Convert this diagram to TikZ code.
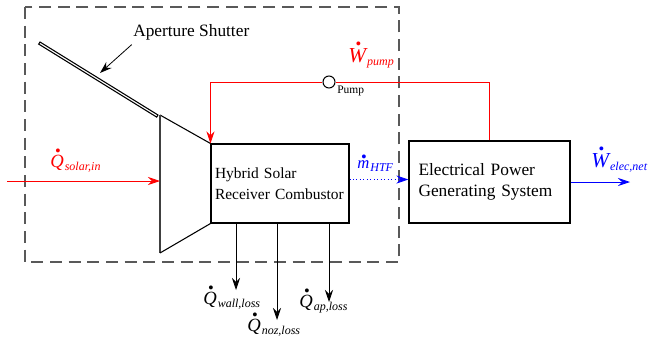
\documentclass[tikz,border=0pt]{standalone}
\usepackage{fontspec}
\setmainfont{Liberation Serif}
\usetikzlibrary{arrows.meta,positioning}

% dotted rate symbol: #1 letter, #2 subscript, #3 letter size, #4 dot height
\newcommand{\ratesym}[4]{%
  {\fontsize{#3}{#3}\selectfont\itshape
   \ooalign{#1\cr\hidewidth\kern0.2em\raisebox{#4}{\fontsize{18}{18}\selectfont\bfseries.}\hidewidth\cr}}%
  \kern0.8pt\raisebox{-2.5pt}{\fontsize{9}{11}\selectfont\itshape #2}}

\begin{document}
\begin{tikzpicture}[x=0.75pt,y=-0.75pt,
  flow/.style={-{Stealth[length=9pt,width=6pt,inset=3pt]}, line width=0.6pt},
  block/.style={draw, thick, rectangle, align=left},
  lbl/.style={inner sep=0pt, anchor=base west}]

% Define colors
\definecolor{heat}{rgb}{1, 0, 0}
\definecolor{power}{rgb}{0, 0, 1}
\definecolor{frame}{rgb}{0.35, 0.35, 0.35}

\useasboundingbox (0,0) rectangle (649,350);

% System boundary
\draw[frame, line width=0.8pt, dash pattern=on 9pt off 5pt] (25,7) rectangle (399,262);

% Draw the blocks
\node[block, minimum width=103.5pt, minimum height=59.25pt, text width=97.5pt, inner xsep=3pt,
  font=\fontsize{11.6}{16}\selectfont] (recv) at (280,183.5) {Hybrid Solar\\Receiver Combustor};
\node[block, minimum width=120.75pt, minimum height=61.5pt, text width=106.5pt, inner xsep=7pt,
  font=\fontsize{13}{15.5}\selectfont] (epgs) at (489.5,182) {Electrical Power\\Generating System};
\node[draw, thick, circle, minimum size=9pt, inner sep=0pt] (pump) at (329,82) {};
\node[lbl, font=\fontsize{8.6}{10}\selectfont] (pumplbl) at (337,93) {Pump};

% Aperture and shutter
\coordinate (apTop) at (160,115);
\coordinate (apBot) at (160,253);
\draw[thick, fill=white] (40,42) -- (158,115) -- (156.7,117.1) -- (38.7,44.1) -- cycle;
\draw[thick] (apTop) -- (recv.north west);
\draw[thick, black!75] (apTop) -- (apBot);
\draw[thick] (apBot) -- (recv.south west);
\node[lbl, font=\fontsize{13}{15}\selectfont] (shutlbl) at (133,36.7) {Aperture Shutter};
\coordinate (shut) at (100,73);
\draw[flow] ([xshift=-1pt,yshift=-3pt]shutlbl.south west) -- (shut);

% Solar input
\coordinate (sun) at (7,181);
\coordinate (face) at (160,181);
\draw[flow, heat] (sun) -- (face);
\node[lbl, text=heat] (qsolar) at (50,167) {\ratesym{Q}{solar,in}{14}{0.8em}};

% Pump loop
\draw[heat, line width=0.6pt] (epgs.north) |- (pump.east);
\draw[flow, heat] (pump.west) -| (recv.north west);
\node[lbl, text=heat] (wpump) at (348,62) {\ratesym{W}{pump}{16}{0.78em}};

% Heat transfer fluid
\draw[flow, power, dotted] ([yshift=3pt]recv.east) -- ([yshift=3pt]recv.east -| epgs.west);
\node[lbl, text=power] (mhtf) at (357,168) {\ratesym{m}{HTF}{12.5}{0.55em}};

% Net electric output
\coordinate (eout) at (630,182);
\draw[flow, power] (epgs.east) -- (eout);
\node[lbl, text=power] (welec) at (591,167) {\ratesym{W}{elec,net}{16}{0.78em}};

% Losses
\coordinate (wall) at (236,290);
\coordinate (noz) at (277,320);
\coordinate (ap) at (329,302);
\draw[flow] (recv.south -| wall) -- (wall);
\draw[flow] (recv.south -| noz) -- (noz);
\draw[flow] (recv.south -| ap) -- (ap);
\node[lbl] (qwall) at (203,304) {\ratesym{Q}{wall,loss}{14}{0.8em}};
\node[lbl] (qnoz) at (247,331) {\ratesym{Q}{noz,loss}{14}{0.8em}};
\node[lbl] (qap) at (299,307) {\ratesym{Q}{ap,loss}{14}{0.8em}};

\end{tikzpicture}
\end{document}
